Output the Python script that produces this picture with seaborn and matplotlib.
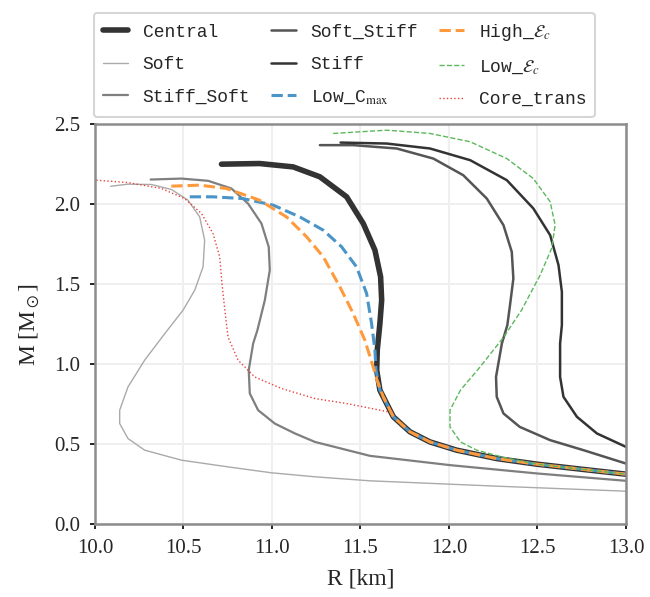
import numpy as np
import pandas as pd
import matplotlib
matplotlib.use("Agg")
import matplotlib.pyplot as plt
import seaborn as sns

# mass-radius curves, R in km, M in solar masses
central_R = [10.715, 10.93, 11.12, 11.271, 11.422, 11.516, 11.582, 11.614, 11.62, 11.61, 11.595, 11.592, 11.61, 11.629,
             11.667, 11.686, 11.78, 11.893, 12.044, 12.27, 12.497, 12.76, 13.0]
central_M = [2.25, 2.254, 2.233, 2.171, 2.046, 1.879, 1.7125, 1.546, 1.40, 1.254, 1.0875, 0.9625, 0.8375, 0.796,
             0.7125, 0.671, 0.577, 0.514, 0.4625, 0.41, 0.375, 0.342, 0.3125]

soft_R = [10.089, 10.187, 10.319, 10.432, 10.526, 10.592, 10.62, 10.611, 10.564, 10.498, 10.394, 10.281, 10.187,
          10.14, 10.14, 10.187, 10.281, 10.489, 10.752, 10.998, 11.243, 11.553, 12.27, 13.0]
soft_M = [2.112, 2.125, 2.123, 2.092, 2.025, 1.92, 1.775, 1.608, 1.4625, 1.3375, 1.19, 1.025, 0.858,
          0.7125, 0.629, 0.535, 0.4625, 0.40, 0.358, 0.321, 0.296, 0.271, 0.2375, 0.206]

stiff_soft_R = [10.315, 10.489, 10.64, 10.771, 10.865, 10.941, 10.982, 10.988, 10.96, 10.918, 10.894, 10.869, 10.875,
                10.922, 11.016, 11.13, 11.243, 11.554, 12.006, 12.497, 13.0]
stiff_soft_M = [2.154, 2.16, 2.146, 2.098, 2.004, 1.879, 1.733, 1.5875, 1.40, 1.2125, 1.129, 0.9625, 0.817,
                0.7125, 0.629, 0.567, 0.514, 0.427, 0.369, 0.317, 0.271]

soft_stiff_R = [11.271, 11.459, 11.705, 11.912, 12.081, 12.214, 12.308, 12.355, 12.364, 12.345, 12.33, 12.299, 12.266,
                12.27, 12.308, 12.40, 12.572, 12.76, 13.0]
soft_stiff_M = [2.369, 2.369, 2.348, 2.285, 2.181, 2.035, 1.869, 1.702, 1.535, 1.369, 1.244, 1.129, 0.92,
                0.796, 0.692, 0.608, 0.525, 0.4625, 0.379]

stiff_R = [11.388, 11.648, 11.893, 12.12, 12.327, 12.477, 12.572, 12.619, 12.638, 12.638, 12.628, 12.628, 12.647,
           12.723, 12.836, 13.0]
stiff_M = [2.385, 2.379, 2.348, 2.275, 2.15, 1.973, 1.806, 1.619, 1.452, 1.244, 1.129, 0.92, 0.796,
           0.671, 0.567, 0.483]

low_cmax_R = [10.536, 10.667, 10.837, 11.007, 11.158, 11.29, 11.394, 11.478, 11.535, 11.563, 11.582, 11.588, 11.61,
              11.629, 11.667, 11.686, 11.78, 11.893, 12.044, 12.27, 12.497, 12.76, 13.0]
low_cmax_M = [2.046, 2.046, 2.035, 1.994, 1.92, 1.8375, 1.733, 1.608, 1.442, 1.254, 1.0875, 0.9625, 0.8375,
              0.796, 0.7125, 0.671, 0.577, 0.514, 0.4625, 0.41, 0.375, 0.342, 0.3125]

high_ec_R = [10.432, 10.592, 10.743, 10.93, 11.083, 11.196, 11.29, 11.384, 11.459, 11.525, 11.572, 11.60, 11.629,
             11.667, 11.686, 11.78, 11.893, 12.044, 12.27, 12.497, 12.76, 13.0]
high_ec_M = [2.1125, 2.119, 2.098, 2.025, 1.92, 1.796, 1.671, 1.483, 1.317, 1.15, 0.983, 0.879, 0.796,
             0.7125, 0.671, 0.577, 0.514, 0.4625, 0.41, 0.375, 0.342, 0.3125]

low_ec_R = [11.346, 11.648, 11.893, 12.12, 12.327, 12.477, 12.572, 12.60, 12.58, 12.515, 12.41, 12.31, 12.176,
            12.065, 12.006, 12.006, 12.065, 12.157, 12.31, 12.497, 12.76, 13.0]
low_ec_M = [2.442, 2.4625, 2.442, 2.39, 2.285, 2.16, 2.015, 1.869, 1.723, 1.556, 1.3375, 1.17, 0.983,
            0.8375, 0.7125, 0.608, 0.514, 0.4625, 0.417, 0.375, 0.342, 0.3125]

core_trans_R = [10.008, 10.187, 10.376, 10.507, 10.602, 10.667, 10.705, 10.718, 10.734, 10.752, 10.809, 10.903,
                11.054, 11.243, 11.422, 11.667]
core_trans_M = [2.15, 2.135, 2.098, 2.035, 1.942, 1.817, 1.671, 1.504, 1.3375, 1.17, 1.025, 0.92,
                0.848, 0.785, 0.754, 0.70]

curves = [
    ('Central', central_R, central_M, '#333333', '-', 4.0),
    ('Soft', soft_R, soft_M, '#aaaaaa', '-', 1.0),
    ('Stiff_Soft', stiff_soft_R, stiff_soft_M, '#7f7f7f', '-', 1.6),
    ('Soft_Stiff', soft_stiff_R, soft_stiff_M, '#555555', '-', 1.8),
    ('Stiff', stiff_R, stiff_M, '#333333', '-', 1.8),
    (r'Low_C$_{\mathrm{max}}$', low_cmax_R, low_cmax_M, '#4a94c8', '--', 2.2),
    (r'High_$\mathcal{E}_c$', high_ec_R, high_ec_M, '#ff9a3c', '--', 2.2),
    (r'Low_$\mathcal{E}_c$', low_ec_R, low_ec_M, '#5cb85c', '--', 1.0),
    ('Core_trans', core_trans_R, core_trans_M, '#e8413e', ':', 1.0),
]

sns.set_theme(style="whitegrid")
plt.rcParams['font.family'] = ['Liberation Serif', 'DejaVu Serif']
plt.rcParams['mathtext.fontset'] = 'stix'
plt.rcParams['lines.solid_joinstyle'] = 'round'
plt.rcParams['lines.dash_joinstyle'] = 'round'

fig = plt.figure(figsize=(6.5, 5.97), dpi=100)
ax = fig.add_axes([0.146, 0.122, 0.817, 0.670])

for name, R, M, col, ls, lw in curves:
    df = pd.DataFrame({'R': R, 'M': M})
    sns.lineplot(data=df, x='R', y='M', sort=False, estimator=None, ax=ax,
                 color=col, linestyle=ls, linewidth=lw, label=name)

ax.set_xlim(10, 13)
ax.set_ylim(0, 2.5)
ax.set_xticks(np.arange(10, 13.01, 0.5))
ax.set_yticks(np.arange(0, 2.51, 0.5))
ax.set_xticklabels(['%.1f' % v for v in np.arange(10, 13.01, 0.5)])
ax.set_yticklabels(['%.1f' % v for v in np.arange(0, 2.51, 0.5)])
ax.grid(True, color='#efefef', linewidth=1.5)
for sp in ax.spines.values():
    sp.set_color('#8c8c8c')
    sp.set_linewidth(1.8)
ax.tick_params(axis='both', which='major', direction='out', length=3.6, width=1.2,
               color='black', labelsize=15, bottom=True, left=True, pad=7)
ax.set_xlabel('R [km]', fontsize=17, labelpad=8)
ax.set_ylabel(r'M [M$_\odot$]', fontsize=17, labelpad=9)

leg = ax.legend(loc='lower left', bbox_to_anchor=(-0.002, 1.0175), borderaxespad=0, ncol=3,
                prop={'family': 'Liberation Mono', 'size': 13},
                frameon=True, fancybox=True, edgecolor='#cccccc',
                handlelength=1.4, handletextpad=0.8, columnspacing=1.15,
                labelspacing=0.85, borderpad=0.5)
leg.get_frame().set_linewidth(1.5)

fig.savefig('out.png', dpi=100)
